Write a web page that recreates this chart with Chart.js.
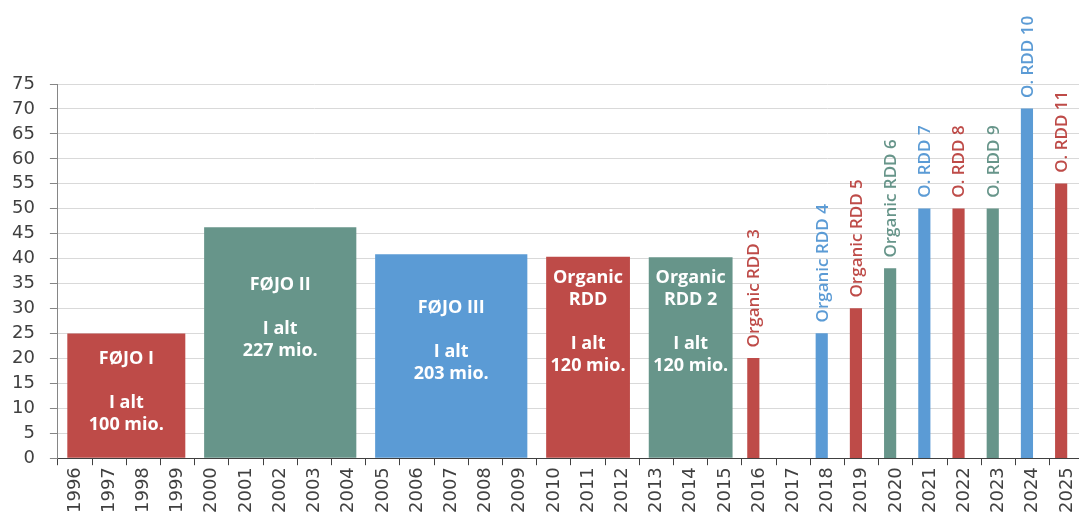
<!DOCTYPE html>
<html>
<head>
<meta charset="utf-8">
<title>FØJO / Organic RDD</title>
<script src="https://cdn.jsdelivr.net/npm/chart.js@4.4.0/dist/chart.umd.min.js"></script>
<style>
  html, body { margin: 0; padding: 0; background: #fff; overflow: hidden; }
  /* the plot runs a few pixels past the right edge of the window, as in the original */
  #wrap { width: 1084px; height: 513px; }
</style>
</head>
<body>
<div id="wrap"><canvas id="fundingChart"></canvas></div>
<script>
'use strict';

// Category axis
const years = ['1996', '1997', '1998', '1999', '2000', '2001', '2002', '2003', '2004', '2005',
  '2006', '2007', '2008', '2009', '2010', '2011', '2012', '2013', '2014', '2015',
  '2016', '2017', '2018', '2019', '2020', '2021', '2022', '2023', '2024', '2025'];

// Multi-year programmes (wide bars)
const programText = [
  ['FØJO I', '', 'I alt', '100 mio.'],
  ['FØJO II', '', 'I alt', '227 mio.'],
  ['FØJO III', '', 'I alt', '203 mio.'],
  ['Organic', 'RDD', '', 'I alt', '120 mio.'],
  ['Organic', 'RDD 2', '', 'I alt', '120 mio.']
];
const programFirstYear = ['1996', '2000', '2005', '2010', '2013'];
const programLastYear = ['1999', '2004', '2009', '2012', '2015'];
const programValues = [25, 46.3, 40.9, 40.4, 40.3];

// Single-year calls (thin bars)
const singleNames = ['Organic RDD 3', 'Organic RDD 4', 'Organic RDD 5', 'Organic RDD 6',
  'O. RDD 7', 'O. RDD 8', 'O. RDD 9', 'O. RDD 10', 'O. RDD 11'];
const singleYears = ['2016', '2018', '2019', '2020', '2021', '2022', '2023', '2024', '2025'];
const singleValues = [20, 25, 30, 38, 50, 50, 50, 70, 55];

// Value axis
const yTicks = [0, 5, 10, 15, 20, 25, 30, 35, 40, 45, 50, 55, 60, 65, 70, 75];

// Colors
const red = '#be4b48';
const teal = '#67958a';
const blue = '#5b9bd5';
const programColors = [red, teal, blue, red, teal];
const singleColors = [red, blue, red, teal, blue, red, teal, blue, red];

// Layout of the text in the programme bars (value where first line sits)
const programTextTop = [19.85, 34.7, 30.1, 36.1, 36.1];
const programGap = 0.55; // empty space left in each programme span, in years

const singleData = years.map(y => {
  const i = singleYears.indexOf(y);
  return i < 0 ? null : singleValues[i];
});
const singleBarColors = years.map(y => {
  const i = singleYears.indexOf(y);
  return i < 0 ? 'rgba(0,0,0,0)' : singleColors[i];
});

// one dataset per programme so each bar can span its own number of years
const programDatasets = programText.map((lines, i) => {
  const a = years.indexOf(programFirstYear[i]);
  const b = years.indexOf(programLastYear[i]) + 1;
  return {
    label: lines[0],
    data: [{ x: (a + b) / 2, y: programValues[i] }],
    xAxisID: 'xw',
    grouped: false,
    categoryPercentage: 1,
    barPercentage: (b - a) - programGap,
    backgroundColor: programColors[i]
  };
});

const barLabels = {
  id: 'barLabels',
  afterDatasetsDraw(chart) {
    const ctx = chart.ctx;
    const y = chart.scales.y;
    ctx.save();

    // text inside the wide programme bars
    ctx.fillStyle = '#ffffff';
    ctx.font = 'bold 18px "Open Sans"';
    ctx.textAlign = 'center';
    ctx.textBaseline = 'middle';
    programText.forEach((lines, i) => {
      const bar = chart.getDatasetMeta(i + 1).data[0];
      const top = y.getPixelForValue(programTextTop[i]);
      lines.forEach((line, k) => ctx.fillText(line, bar.x, top + k * 22));
    });

    // rotated names above the thin bars
    ctx.font = '600 17px "Open Sans"';
    ctx.textAlign = 'left';
    const meta = chart.getDatasetMeta(0);
    meta.data.forEach((bar, idx) => {
      const i = singleYears.indexOf(years[idx]);
      if (i < 0) return;
      ctx.save();
      ctx.fillStyle = singleColors[i];
      ctx.translate(bar.x, bar.y - 11);
      ctx.rotate(-Math.PI / 2);
      ctx.fillText(singleNames[i], 0, 1);
      ctx.restore();
    });
    ctx.restore();
  }
};

const ctx = document.getElementById('fundingChart').getContext('2d');
new Chart(ctx, {
  type: 'bar',
  data: {
    labels: years,
    datasets: [{
      label: 'Organic RDD',
      data: singleData,
      backgroundColor: singleBarColors,
      barThickness: 11.5
    }].concat(programDatasets)
  },
  options: {
    responsive: true,
    maintainAspectRatio: false,
    animation: false,
    layout: {
      padding: { left: -3, right: 0, top: 84, bottom: -2 }
    },
    plugins: {
      legend: { display: false },
      tooltip: { enabled: false }
    },
    scales: {
      x: {
        type: 'category',
        offset: true,
        afterFit: axis => { axis.paddingLeft = 0; axis.paddingRight = 0; },
        grid: {
          offset: true,
          drawOnChartArea: false,
          tickLength: 7,
          tickColor: '#404040'
        },
        border: { color: '#404040', width: 1 },
        ticks: {
          autoSkip: false,
          maxRotation: 90,
          minRotation: 90,
          padding: 2,
          color: '#404040',
          font: { family: '"DejaVu Sans"', size: 18 }
        }
      },
      xw: {
        type: 'linear',
        display: false,
        min: 0,
        max: years.length,
        offset: false,
        ticks: { stepSize: 1 },
        grid: { display: false }
      },
      y: {
        min: yTicks[0],
        max: yTicks[yTicks.length - 1],
        afterBuildTicks: axis => { axis.ticks = yTicks.map(v => ({ value: v })); },
        grid: {
          color: '#d9d9d9',
          tickColor: '#868686',
          tickLength: 8
        },
        border: { color: '#868686', width: 1 },
        ticks: {
          padding: 15,
          color: '#404040',
          font: { family: '"DejaVu Sans"', size: 18 }
        }
      }
    }
  },
  plugins: [barLabels]
});
</script>
</body>
</html>
